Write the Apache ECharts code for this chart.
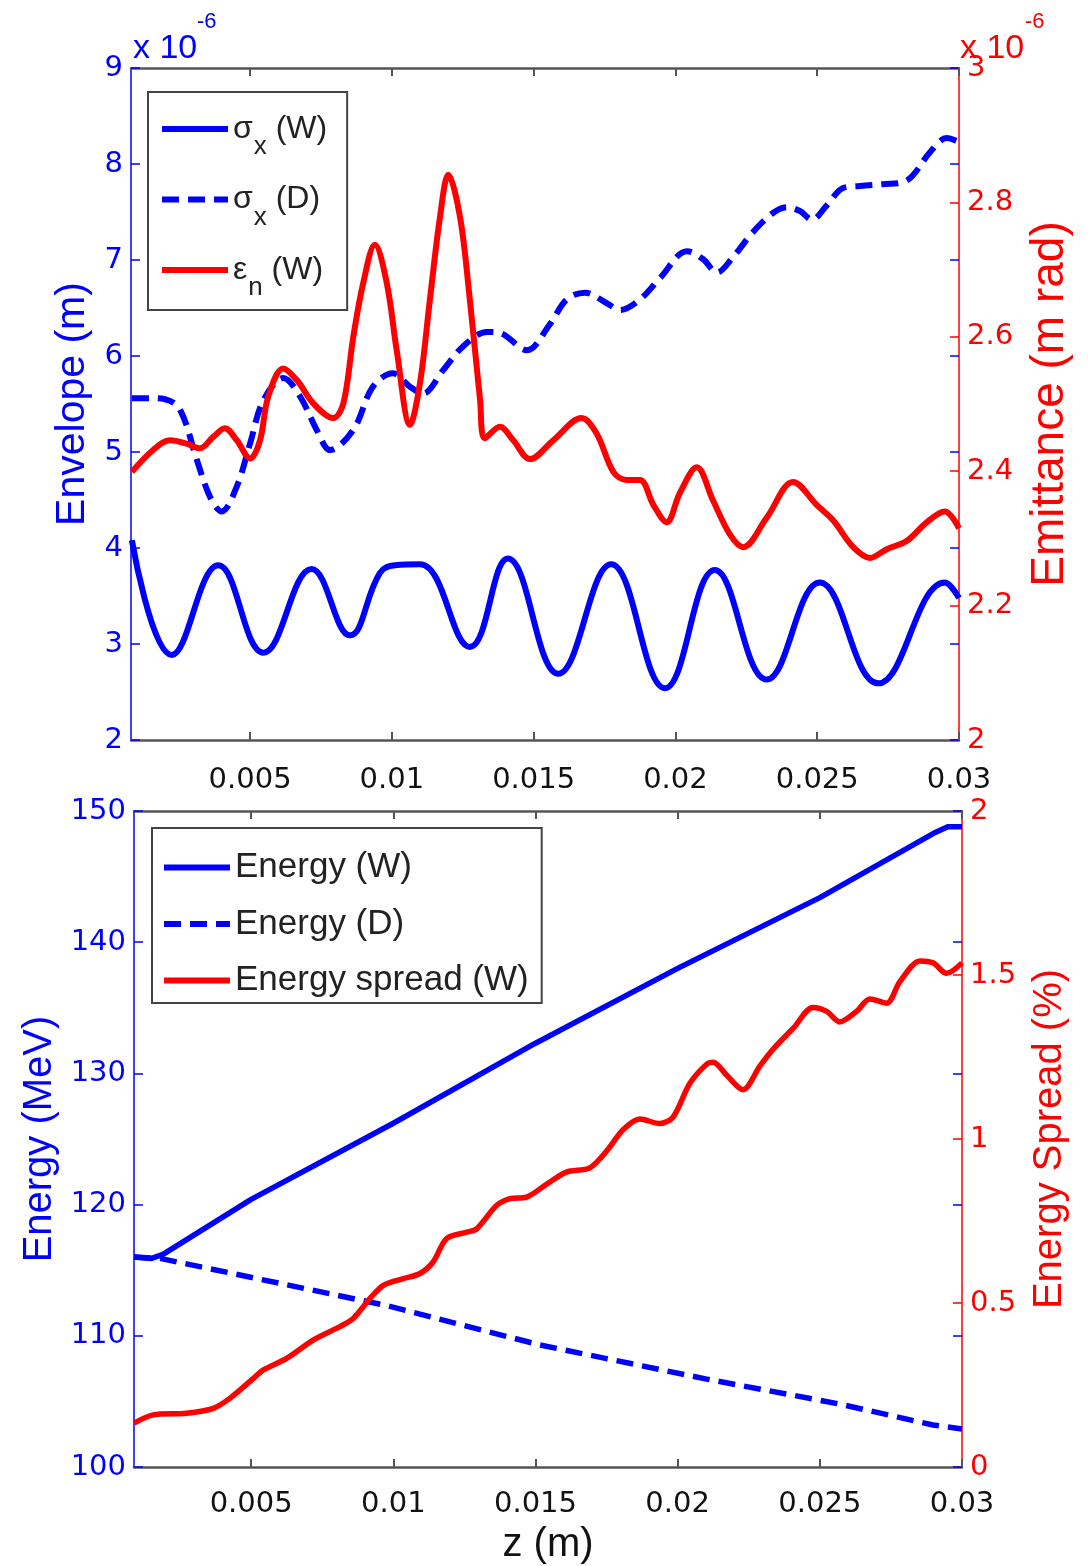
<!DOCTYPE html>
<html>
<head>
<meta charset="utf-8">
<script src="https://cdn.jsdelivr.net/npm/echarts@6.0.0/dist/echarts.min.js"></script>
<style>
  html, body { margin: 0; padding: 0; background: #fff; }
  #chart { width: 1092px; height: 1566px; }
</style>
</head>
<body>
<div id="chart"></div>
<script>
// ---- beam envelope & emittance (top panel), x10^-6 units ----
const zSigmaW = [0.00083, 0.00224, 0.00388, 0.00547, 0.00717, 0.00852, 0.00958, 0.01011, 0.01099, 0.01275,
  0.01409, 0.01587, 0.01773, 0.01963, 0.02139, 0.02322, 0.02509, 0.02715, 0.0295, 0.03];
const sigmaW = [4.08, 2.885, 3.82, 2.91, 3.78, 3.09, 3.74, 3.82, 3.83, 2.97,
  3.89, 2.69, 3.83, 2.54, 3.77, 2.63, 3.64, 2.59, 3.64, 3.48];

const zSigmaD = [0.00083, 0.00147, 0.0020, 0.00253, 0.00312, 0.00359, 0.0040, 0.00453, 0.005, 0.00547,
  0.00617, 0.00676, 0.00735, 0.00782, 0.00864, 0.00933, 0.01004, 0.01064, 0.0111, 0.0118,
  0.01251, 0.01335, 0.01381, 0.01476, 0.01557, 0.01617, 0.01681, 0.01758, 0.01804, 0.01875,
  0.01945, 0.02041, 0.02097, 0.02146, 0.02203, 0.02273, 0.02344, 0.02393, 0.02439, 0.02481,
  0.02534, 0.02591, 0.02651, 0.02732, 0.02802, 0.02837, 0.02897, 0.02957, 0.03];
const sigmaD = [5.56, 5.56, 5.55, 5.44, 4.92, 4.53, 4.38, 4.64, 5.09, 5.54,
  5.77, 5.58, 5.23, 5.02, 5.23, 5.68, 5.82, 5.68, 5.61, 5.85,
  6.10, 6.25, 6.24, 6.06, 6.33, 6.59, 6.66, 6.55, 6.48, 6.59,
  6.81, 7.09, 7.01, 6.87, 7.03, 7.29, 7.49, 7.55, 7.51, 7.42,
  7.57, 7.75, 7.77, 7.79, 7.81, 7.88, 8.12, 8.27, 8.23];

const zEmitW = [0.00083, 0.00159, 0.00218, 0.00276, 0.00323, 0.0037, 0.00411, 0.00453, 0.005, 0.00535,
  0.00564, 0.00617, 0.00664, 0.00723, 0.00793, 0.00829, 0.00864, 0.00899, 0.0094, 0.00982,
  0.01017, 0.01064, 0.01099, 0.01134, 0.0117, 0.01199, 0.0124, 0.01275, 0.01311, 0.01328,
  0.01381, 0.01428, 0.01487, 0.01569, 0.01669, 0.01722, 0.01781, 0.01828, 0.01875, 0.01922,
  0.01969, 0.02016, 0.02075, 0.02133, 0.02192, 0.02239, 0.02322, 0.02415, 0.02498, 0.02556,
  0.02627, 0.02686, 0.02745, 0.02815, 0.02886, 0.0295, 0.03];
const emitW = [2.399, 2.432, 2.446, 2.441, 2.434, 2.451, 2.464, 2.446, 2.419, 2.446,
  2.511, 2.553, 2.536, 2.501, 2.479, 2.501, 2.600, 2.680, 2.737, 2.680,
  2.580, 2.469, 2.531, 2.655, 2.779, 2.841, 2.779, 2.655, 2.506, 2.449,
  2.466, 2.446, 2.418, 2.446, 2.479, 2.456, 2.399, 2.387, 2.387, 2.350,
  2.324, 2.368, 2.406, 2.356, 2.306, 2.287, 2.331, 2.384, 2.350, 2.327,
  2.287, 2.271, 2.284, 2.296, 2.324, 2.340, 2.315];

// ---- beam energy & energy spread (bottom panel) ----
const zEnergyW = [0.00088, 0.0015, 0.0019, 0.005, 0.01, 0.015, 0.02, 0.025, 0.029, 0.0295, 0.03];
const energyW = [116.0, 115.9, 116.2, 120.4, 126.2, 132.3, 138.0, 143.4, 148.3, 148.8, 148.8];

const zEnergyD = [0.00088, 0.0018, 0.00977, 0.01516, 0.02102, 0.0257, 0.02898, 0.03];
const energyD = [116.0, 115.9, 112.3, 109.3, 106.7, 104.8, 103.2, 102.9];

const zSpreadW = [0.00088, 0.00156, 0.00273, 0.00367, 0.00426, 0.00508, 0.00543, 0.00625, 0.00718, 0.00812,
  0.00859, 0.00918, 0.00965, 0.01035, 0.01094, 0.0114, 0.01187, 0.01258, 0.01293, 0.01363,
  0.0141, 0.01469, 0.01539, 0.01609, 0.01691, 0.0175, 0.01808, 0.01867, 0.01937, 0.01984,
  0.02043, 0.02102, 0.02125, 0.02172, 0.0223, 0.02289, 0.02336, 0.02406, 0.02476, 0.02524,
  0.0257, 0.02629, 0.02676, 0.02735, 0.02781, 0.02852, 0.02898, 0.02946, 0.03];
const spreadW = [0.134, 0.159, 0.164, 0.179, 0.21, 0.27, 0.296, 0.331, 0.387, 0.428,
  0.453, 0.514, 0.554, 0.574, 0.59, 0.625, 0.696, 0.716, 0.726, 0.797,
  0.818, 0.823, 0.862, 0.899, 0.912, 0.963, 1.028, 1.061, 1.047, 1.067,
  1.17, 1.228, 1.234, 1.195, 1.15, 1.222, 1.274, 1.337, 1.401, 1.389,
  1.357, 1.389, 1.427, 1.414, 1.479, 1.543, 1.537, 1.505, 1.537];

// ---- axes ----
const zTicks = [0.005, 0.01, 0.015, 0.02, 0.025, 0.03];
const topLegendNames = ['σx (W)', 'σx (D)', 'εn (W)'];
const bottomLegendNames = ['Energy (W)', 'Energy (D)', 'Energy spread (W)'];

const BLUE = '#0000ff';
const RED = '#ff0000';
const AXIS_GRAY = '#555555';
const TICK_FONT = 'DejaVu Sans';
const TEXT_FONT = 'Liberation Sans';

const pairs = (z, v) => z.map((x, i) => [x, v[i]]);

function xAxes(gridIndex, min, labelMargin, name) {
  const common = {
    type: 'value', gridIndex, min, max: 0.03,
    splitLine: { show: false },
    axisLine: { show: true, lineStyle: { color: AXIS_GRAY, width: 2.5 } },
    axisTick: { show: true, inside: true, length: 8, customValues: zTicks,
      lineStyle: { color: AXIS_GRAY, width: 2 } }
  };
  return [
    Object.assign({}, common, {
      position: 'bottom',
      axisLabel: { show: true, customValues: zTicks, margin: labelMargin,
        fontFamily: TICK_FONT, fontSize: 29, color: '#111' },
      name: name || '', nameLocation: 'middle', nameGap: 58,
      nameTextStyle: { fontFamily: TEXT_FONT, fontSize: 40, color: '#111' }
    }),
    Object.assign({}, common, { position: 'top', axisLabel: { show: false } })
  ];
}

function yAxis(gridIndex, pos, min, max, interval, color, name, nameGap, nameSize, showLine, showLabel) {
  return {
    type: 'value', gridIndex, position: pos, min, max, interval,
    splitLine: { show: false },
    axisLine: { show: showLine, lineStyle: { color, width: 1.5 } },
    axisTick: { show: true, inside: true, length: 9, lineStyle: { color, width: 1.5 } },
    axisLabel: { show: showLabel, margin: 8, fontFamily: TICK_FONT, fontSize: 29, color },
    name: name || '', nameLocation: 'middle', nameGap: nameGap || 0,
    nameTextStyle: { fontFamily: TEXT_FONT, fontSize: nameSize || 40, color }
  };
}

function lineSeries(name, xi, yi, data, color, width, dashed, smooth) {
  return {
    name, type: 'line', xAxisIndex: xi, yAxisIndex: yi, data,
    symbol: 'none', smooth: smooth,
    lineStyle: { color, width, type: dashed ? [17, 9] : 'solid', cap: 'butt', join: 'round' },
    itemStyle: { color },
    emphasis: { disabled: true }, animation: false
  };
}

const chart = echarts.init(document.getElementById('chart'), null, { renderer: 'canvas' });

const option = {
  backgroundColor: '#ffffff',
  animation: false,
  grid: [
    { left: 131, right: 133, top: 68, height: 672 },
    { left: 134, right: 130, top: 811, height: 658 }
  ],
  xAxis: [].concat(xAxes(0, 0.0008, 26), xAxes(1, 0.00088, 23, 'z (m)')),
  yAxis: [
    yAxis(0, 'left', 2, 9, 1, BLUE, 'Envelope (m)', 33, 41, true, true),
    yAxis(0, 'right', 2, 3, 0.2, RED, 'Emittance (m rad)', 68, 46, true, true),
    yAxis(0, 'right', 2, 9, 1, BLUE, '', 0, 40, false, false),
    yAxis(1, 'left', 100, 150, 10, BLUE, 'Energy (MeV)', 72, 40, true, true),
    yAxis(1, 'right', 0, 2, 0.5, RED, 'Energy Spread (%)', 68, 40, true, true),
    yAxis(1, 'right', 100, 150, 10, BLUE, '', 0, 40, false, false)
  ],
  legend: [
    {
      data: topLegendNames, orient: 'vertical', left: 148, top: 92,
      itemWidth: 66, itemHeight: 12, itemGap: 23.5,
      padding: [21, 20, 9, 11],
      borderColor: '#444', borderWidth: 2, backgroundColor: '#fff',
      selectedMode: false,
      itemStyle: { opacity: 0 },
      lineStyle: { width: 6 },
      formatter: function (name) {
        const base = name.charAt(0), sub = name.charAt(1), rest = name.slice(2);
        return '{g|' + base + '}{s|' + sub + '}{g|' + rest + '}';
      },
      textStyle: {
        rich: {
          g: { fontFamily: TEXT_FONT, fontSize: 32, color: '#222' },
          s: { fontFamily: TEXT_FONT, fontSize: 26, color: '#222', padding: [36, 0, 0, 1] }
        }
      }
    },
    {
      data: bottomLegendNames, orient: 'vertical', left: 152, top: 828,
      itemWidth: 66, itemHeight: 12, itemGap: 21.5,
      padding: [22, 13, 5, 9],
      borderColor: '#444', borderWidth: 2, backgroundColor: '#fff',
      selectedMode: false,
      itemStyle: { opacity: 0 },
      lineStyle: { width: 6 },
      textStyle: { fontFamily: TEXT_FONT, fontSize: 35, color: '#222' }
    }
  ],
  graphic: [
    { type: 'text', left: 133, top: 32, style: { text: 'x 10', fontFamily: TEXT_FONT, fontSize: 34, fill: BLUE } },
    { type: 'text', left: 197, top: 11, style: { text: '-6', fontFamily: TEXT_FONT, fontSize: 22, fill: BLUE } },
    { type: 'text', left: 960, top: 32, style: { text: 'x 10', fontFamily: TEXT_FONT, fontSize: 34, fill: RED } },
    { type: 'text', left: 1025, top: 11, style: { text: '-6', fontFamily: TEXT_FONT, fontSize: 22, fill: RED } }
  ],
  series: [
    lineSeries(topLegendNames[0], 0, 0, pairs(zSigmaW, sigmaW), BLUE, 6, false, 0.42),
    lineSeries(topLegendNames[1], 0, 0, pairs(zSigmaD, sigmaD), BLUE, 6, true, 0.35),
    lineSeries(topLegendNames[2], 0, 1, pairs(zEmitW, emitW), RED, 6, false, 0.35),
    lineSeries(bottomLegendNames[0], 2, 3, pairs(zEnergyW, energyW), BLUE, 5.5, false, false),
    lineSeries(bottomLegendNames[1], 2, 3, pairs(zEnergyD, energyD), BLUE, 5.5, true, false),
    lineSeries(bottomLegendNames[2], 2, 4, pairs(zSpreadW, spreadW), RED, 5.5, false, 0.3)
  ]
};

chart.setOption(option);
</script>
</body>
</html>
